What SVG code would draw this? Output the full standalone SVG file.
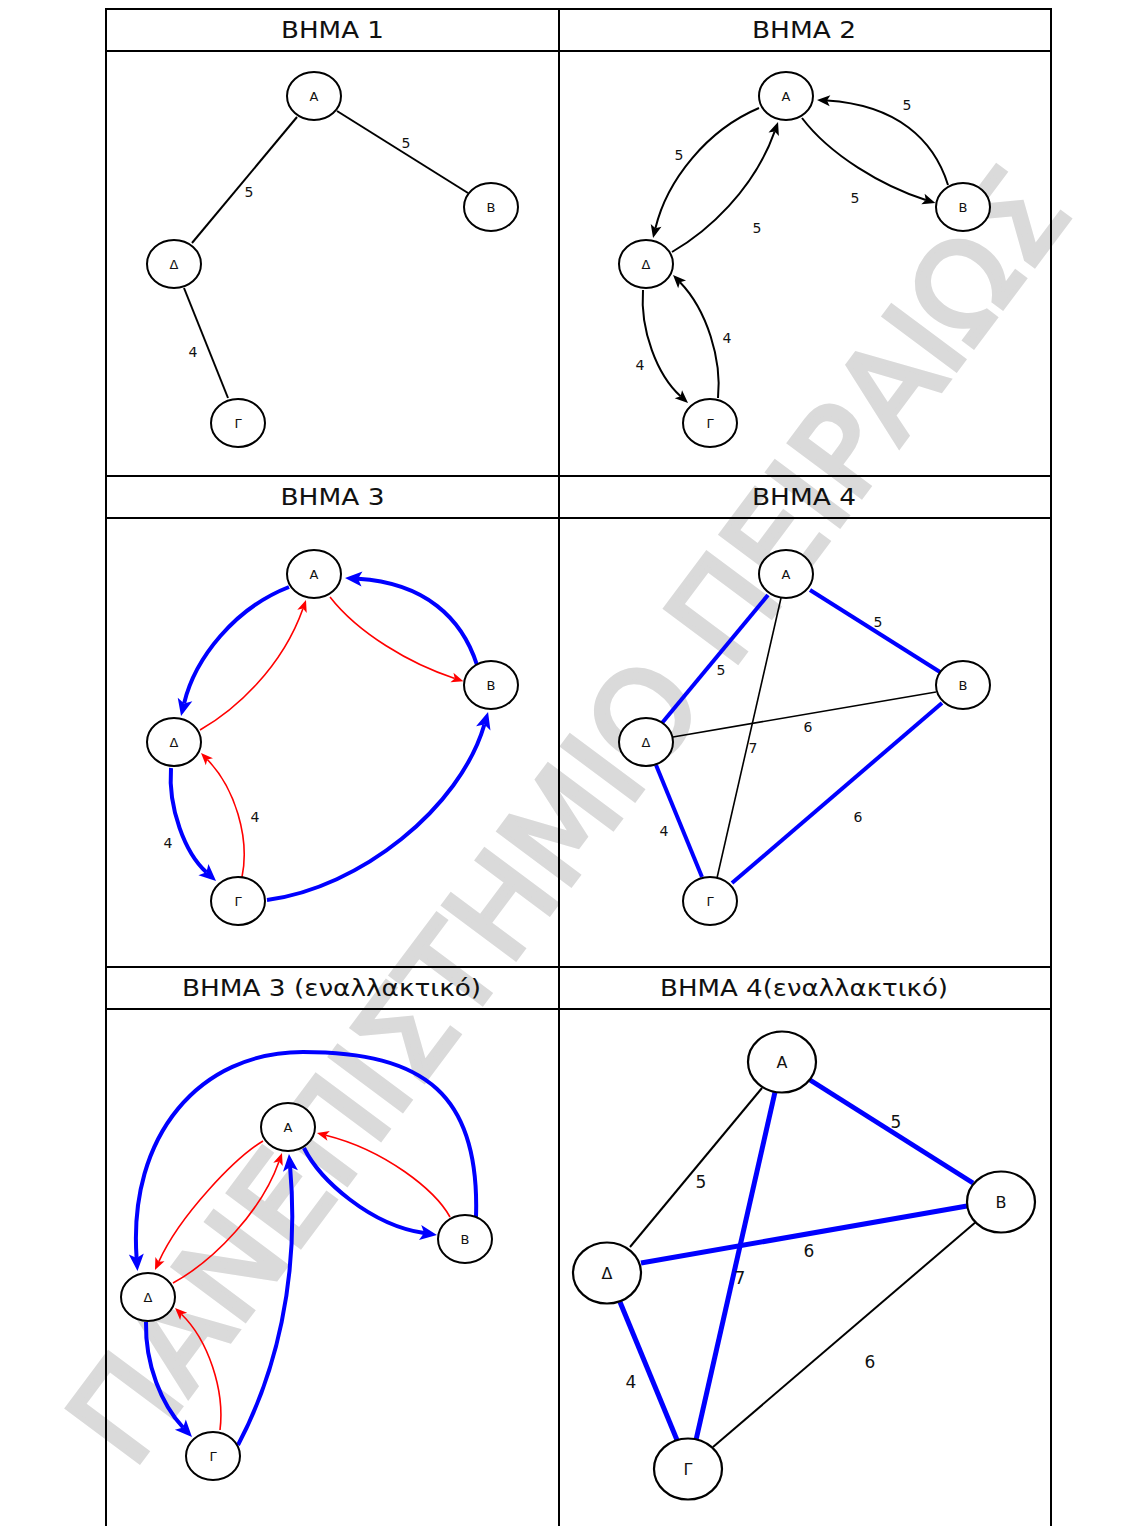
<svg xmlns="http://www.w3.org/2000/svg" width="1140" height="1526" viewBox="0 0 1140 1526">
<style>
  .grid{stroke:#000;stroke-width:2;fill:none}
  .hdr{font-family:"DejaVu Sans",Verdana,sans-serif;font-size:23px;fill:#111;text-anchor:middle}
  .nd ellipse{fill:#fff;stroke:#000;stroke-width:2}
  .nd text{font-family:"DejaVu Sans",Verdana,sans-serif;font-size:13px;fill:#111;text-anchor:middle}
  .big ellipse{stroke-width:2.2}
  .big text{font-size:16px}
  .lbl{font-family:"DejaVu Sans",Verdana,sans-serif;font-size:14px;fill:#111;text-anchor:middle}
  .lbl6{font-size:17px}
  .e{fill:none;stroke:#000;stroke-width:2}
  .et{fill:none;stroke:#000;stroke-width:1.6}
  .eb{fill:none;stroke:#0000ff;stroke-width:4}
  .eb6{fill:none;stroke:#0000ff;stroke-width:5}
  .er{fill:none;stroke:#ff0000;stroke-width:1.6}
  .wm{font-family:"DejaVu Sans",Verdana,sans-serif;font-size:123px;fill:#dadada;stroke:#dadada;stroke-width:5;stroke-linejoin:miter;text-anchor:middle}
</style>
<defs>
  <marker id="ak" markerUnits="userSpaceOnUse" viewBox="-10 -10 30 20" markerWidth="30" markerHeight="20" refX="0" refY="0" orient="auto">
    <path d="M10,0 L-3,-5.5 L0,0 L-3,5.5 Z" fill="#000"/>
  </marker>
  <marker id="ab" markerUnits="userSpaceOnUse" viewBox="-10 -10 30 20" markerWidth="30" markerHeight="20" refX="0" refY="0" orient="auto">
    <path d="M13,0 L-4,-7.5 L0,0 L-4,7.5 Z" fill="#0000ff"/>
  </marker>
  <marker id="ar" markerUnits="userSpaceOnUse" viewBox="-10 -10 30 20" markerWidth="30" markerHeight="20" refX="0" refY="0" orient="auto">
    <path d="M9,0 L-3,-5 L0,0 L-3,5 Z" fill="#ff0000"/>
  </marker>
</defs>

<rect width="1140" height="1526" fill="#fff"/>

<!-- watermark -->
<text class="wm" transform="translate(603,842) rotate(-53.2)">ΠΑΝΕΠΙΣΤΗΜΙΟ ΠΕΙΡΑΙΩΣ</text>

<!-- table -->
<g id="table" class="grid">
  <line x1="106" y1="8" x2="106" y2="1526"/>
  <line x1="559" y1="8" x2="559" y2="1526"/>
  <line x1="1051" y1="8" x2="1051" y2="1526"/>
  <line x1="105" y1="9" x2="1052" y2="9"/>
  <line x1="105" y1="51" x2="1052" y2="51"/>
  <line x1="105" y1="476" x2="1052" y2="476"/>
  <line x1="105" y1="518" x2="1052" y2="518"/>
  <line x1="105" y1="967" x2="1052" y2="967"/>
  <line x1="105" y1="1009" x2="1052" y2="1009"/>
</g>
<g id="headers" class="hdr">
  <text x="332.5" y="38" textLength="103" lengthAdjust="spacingAndGlyphs">ΒΗΜΑ 1</text>
  <text x="804" y="38" textLength="104" lengthAdjust="spacingAndGlyphs">ΒΗΜΑ 2</text>
  <text x="332.5" y="505" textLength="104" lengthAdjust="spacingAndGlyphs">ΒΗΜΑ 3</text>
  <text x="804" y="505" textLength="104" lengthAdjust="spacingAndGlyphs">ΒΗΜΑ 4</text>
  <text x="331.5" y="996" textLength="299" lengthAdjust="spacingAndGlyphs">ΒΗΜΑ 3 (εναλλακτικό)</text>
  <text x="804" y="996" textLength="288" lengthAdjust="spacingAndGlyphs">ΒΗΜΑ 4(εναλλακτικό)</text>
</g>

<!-- step 1: spanning tree -->
<g id="step1">
  <g id="step1-edges">
    <path class="e" d="M337,111 L468,193"/>
    <path class="e" d="M297,117 L192,243"/>
    <path class="e" d="M184,288 L228,398"/>
  </g>
  <g id="step1-labels" class="lbl">
    <text x="406" y="148">5</text>
    <text x="249" y="197">5</text>
    <text x="193" y="357">4</text>
  </g>
  <g id="step1-A" class="nd"><ellipse cx="314" cy="96" rx="27" ry="24"/><text x="314" y="100.5">Α</text></g>
  <g id="step1-B" class="nd"><ellipse cx="491" cy="207" rx="27" ry="24"/><text x="491" y="211.5">Β</text></g>
  <g id="step1-D" class="nd"><ellipse cx="174" cy="264" rx="27" ry="24"/><text x="174" y="268.5">Δ</text></g>
  <g id="step1-G" class="nd"><ellipse cx="238" cy="423" rx="27" ry="24"/><text x="238" y="427.5">Γ</text></g>
</g>

<!-- step 2: doubled edges -->
<g id="step2" transform="translate(472,0)">
  <g id="step2-edges" marker-end="url(#ak)">
    <path class="e" d="M287,108 C235,130 195,180 183.4,228.3"/>
    <path class="e" d="M200,252 C235,232 282,190 302.7,131.4"/>
    <path class="e" d="M330,118 C358,155 410,186 453.8,200"/>
    <path class="e" d="M476,185 C462,140 425,105 355,100.6"/>
    <path class="e" d="M171,290 C168,330 185,375 208.6,396.3"/>
    <path class="e" d="M246,398 C250,360 235,310 208,282.2"/>
  </g>
  <g id="step2-labels" class="lbl">
    <text x="207" y="160">5</text>
    <text x="285" y="233">5</text>
    <text x="383" y="203">5</text>
    <text x="435" y="110">5</text>
    <text x="168" y="370">4</text>
    <text x="255" y="343">4</text>
  </g>
  <g id="step2-A" class="nd"><ellipse cx="314" cy="96" rx="27" ry="24"/><text x="314" y="100.5">Α</text></g>
  <g id="step2-B" class="nd"><ellipse cx="491" cy="207" rx="27" ry="24"/><text x="491" y="211.5">Β</text></g>
  <g id="step2-D" class="nd"><ellipse cx="174" cy="264" rx="27" ry="24"/><text x="174" y="268.5">Δ</text></g>
  <g id="step2-G" class="nd"><ellipse cx="238" cy="423" rx="27" ry="24"/><text x="238" y="427.5">Γ</text></g>
</g>

<!-- step 3: Euler tour with shortcut -->
<g id="step3" transform="translate(0,478)">
  <g id="step3-edges">
    <path class="eb" marker-end="url(#ab)" d="M289,109 C235,130 195,180 184.1,225.4"/>
    <path class="er" marker-end="url(#ar)" d="M200,252 C235,232 282,190 303,130.5"/>
    <path class="er" marker-end="url(#ar)" d="M330,119 C358,155 410,186 454.8,200.4"/>
    <path class="eb" marker-end="url(#ab)" d="M477,187 C462,140 425,105 358,100.8"/>
    <path class="eb" marker-end="url(#ab)" d="M171,290 C168,330 185,375 206.4,394.3"/>
    <path class="er" marker-end="url(#ar)" d="M242,399 C250,360 235,310 207.3,281.5"/>
    <path class="eb" marker-end="url(#ab)" d="M267,422 C360,410 460,330 484.4,246.5"/>
  </g>
  <g id="step3-labels" class="lbl">
    <text x="168" y="370">4</text>
    <text x="255" y="344">4</text>
  </g>
  <g id="step3-A" class="nd"><ellipse cx="314" cy="96" rx="27" ry="24"/><text x="314" y="100.5">Α</text></g>
  <g id="step3-B" class="nd"><ellipse cx="491" cy="207" rx="27" ry="24"/><text x="491" y="211.5">Β</text></g>
  <g id="step3-D" class="nd"><ellipse cx="174" cy="264" rx="27" ry="24"/><text x="174" y="268.5">Δ</text></g>
  <g id="step3-G" class="nd"><ellipse cx="238" cy="423" rx="27" ry="24"/><text x="238" y="427.5">Γ</text></g>
</g>

<!-- step 4: resulting tour on the full graph -->
<g id="step4" transform="translate(472,478)">
  <g id="step4-edges">
    <path class="et" d="M309,120 L245,400"/>
    <path class="et" d="M201,259 L464,214"/>
    <path class="eb" d="M296,117 L190,245"/>
    <path class="eb" d="M338,112 L468,194"/>
    <path class="eb" d="M470,225 L260,405"/>
    <path class="eb" d="M184,287 L230,399"/>
  </g>
  <g id="step4-labels" class="lbl">
    <text x="249" y="197">5</text>
    <text x="406" y="149">5</text>
    <text x="386" y="344">6</text>
    <text x="192" y="358">4</text>
    <text x="281" y="275">7</text>
    <text x="336" y="254">6</text>
  </g>
  <g id="step4-A" class="nd"><ellipse cx="314" cy="96" rx="27" ry="24"/><text x="314" y="100.5">Α</text></g>
  <g id="step4-B" class="nd"><ellipse cx="491" cy="207" rx="27" ry="24"/><text x="491" y="211.5">Β</text></g>
  <g id="step4-D" class="nd"><ellipse cx="174" cy="264" rx="27" ry="24"/><text x="174" y="268.5">Δ</text></g>
  <g id="step4-G" class="nd"><ellipse cx="238" cy="423" rx="27" ry="24"/><text x="238" y="427.5">Γ</text></g>
</g>

<!-- step 3 (alternative) -->
<g id="step3alt">
  <g id="step3alt-edges">
    <path class="eb" marker-end="url(#ab)" d="M476,1217 C480,1095 425,1052 303,1052 C200,1052 128,1135 136.6,1258"/>
    <path class="eb" marker-end="url(#ab)" d="M304,1148 C320,1180 370,1225 424.1,1233.1"/>
    <path class="er" marker-end="url(#ar)" d="M450,1217 C435,1190 385,1150 325.7,1135.2"/>
    <path class="er" marker-end="url(#ar)" d="M263,1141 C235,1158 180,1215 158.7,1261.8"/>
    <path class="er" marker-end="url(#ar)" d="M173,1283 C215,1260 262,1210 279,1161.5"/>
    <path class="eb" marker-end="url(#ab)" d="M238,1445 C275,1375 300,1280 290.1,1167"/>
    <path class="eb" marker-end="url(#ab)" d="M146,1322 C145,1365 162,1405 183.1,1427.5"/>
    <path class="er" marker-end="url(#ar)" d="M220,1430 C225,1390 208,1340 181.5,1314.3"/>
  </g>
  <g id="step3alt-A" class="nd"><ellipse cx="288" cy="1127" rx="27" ry="24"/><text x="288" y="1131.5">Α</text></g>
  <g id="step3alt-B" class="nd"><ellipse cx="465" cy="1239" rx="27" ry="24"/><text x="465" y="1243.5">Β</text></g>
  <g id="step3alt-D" class="nd"><ellipse cx="148" cy="1297" rx="27" ry="24"/><text x="148" y="1301.5">Δ</text></g>
  <g id="step3alt-G" class="nd"><ellipse cx="213" cy="1456" rx="27" ry="24"/><text x="213" y="1460.5">Γ</text></g>
</g>

<!-- step 4 (alternative) -->
<g id="step4alt">
  <g id="step4alt-edges">
    <path class="e" d="M762,1088 L630,1247"/>
    <path class="e" d="M977,1221 L713,1447"/>
    <path class="eb6" d="M810,1080 L973,1183"/>
    <path class="eb6" d="M775,1092 L696,1440"/>
    <path class="eb6" d="M641,1263 L967,1206"/>
    <path class="eb6" d="M620,1302 L677,1440"/>
  </g>
  <g id="step4alt-labels" class="lbl lbl6">
    <text x="701" y="1188">5</text>
    <text x="896" y="1128">5</text>
    <text x="740" y="1284">7</text>
    <text x="809" y="1257">6</text>
    <text x="631" y="1388">4</text>
    <text x="870" y="1368">6</text>
  </g>
  <g id="step4alt-A" class="nd big"><ellipse cx="782" cy="1062" rx="34" ry="30.5"/><text x="782" y="1068">Α</text></g>
  <g id="step4alt-B" class="nd big"><ellipse cx="1001" cy="1202" rx="34" ry="30.5"/><text x="1001" y="1208">Β</text></g>
  <g id="step4alt-D" class="nd big"><ellipse cx="607" cy="1273" rx="34" ry="30.5"/><text x="607" y="1279">Δ</text></g>
  <g id="step4alt-G" class="nd big"><ellipse cx="688" cy="1469" rx="34" ry="30.5"/><text x="688" y="1475">Γ</text></g>
</g>
</svg>
